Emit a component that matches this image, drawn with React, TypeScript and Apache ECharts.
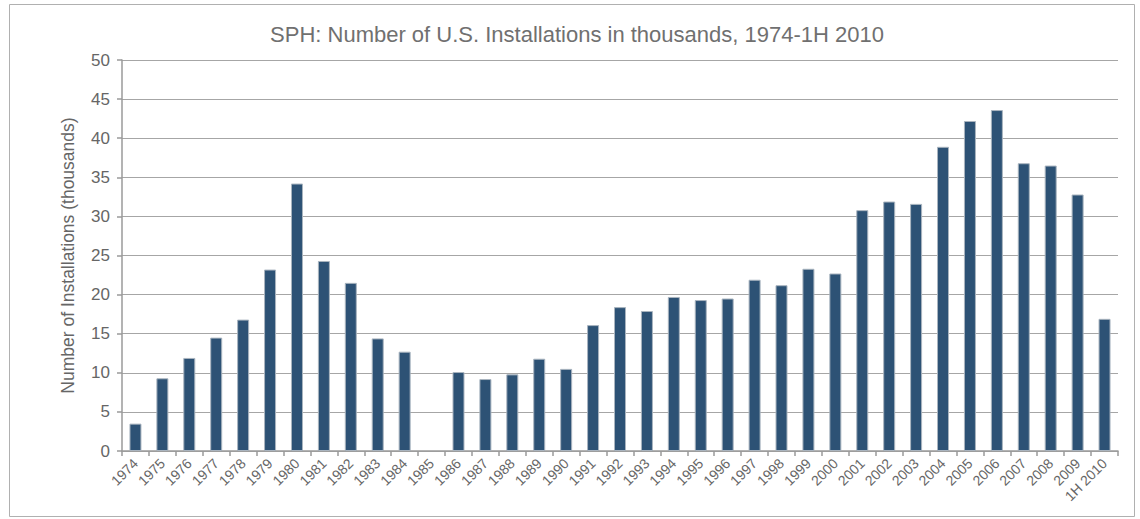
import React, { useEffect, useRef } from "react";
import * as echarts from "echarts";

const categories = [
  "1974","1975","1976","1977","1978","1979","1980","1981","1982","1983","1984","1985",
  "1986","1987","1988","1989","1990","1991","1992","1993","1994","1995","1996","1997",
  "1998","1999","2000","2001","2002","2003","2004","2005","2006","2007","2008","2009","1H 2010",
];
const installations: (number | null)[] = [
  3.5, 9.3, 11.9, 14.5, 16.8, 23.2, 34.2, 24.3, 21.5, 14.4, 12.7, null,
  10.1, 9.2, 9.8, 11.8, 10.5, 16.1, 18.4, 17.9, 19.7, 19.3, 19.5, 21.9,
  21.2, 23.3, 22.7, 30.8, 31.9, 31.6, 38.9, 42.2, 43.6, 36.8, 36.5, 32.8, 16.9,
];
const titleText = "SPH: Number of U.S. Installations in thousands, 1974-1H 2010";
const yAxisName = "Number of Installations (thousands)";

export default function App() {
  const ref = useRef<HTMLDivElement>(null);
  useEffect(() => {
    if (!ref.current) return;
    const chart = echarts.init(ref.current, undefined, { renderer: "svg" });
    const font = "'Liberation Sans', Arial, Helvetica, sans-serif";
    chart.setOption({
      animation: false,
      backgroundColor: "#ffffff",
      textStyle: { fontFamily: font },
      title: {
        text: titleText,
        left: 572,
        top: 18,
        textAlign: "center",
        textStyle: { fontSize: 22, fontWeight: "normal", color: "#707070", fontFamily: font },
      },
      graphic: [
        {
          type: "rect",
          shape: { x: 9.5, y: 4.5, width: 1125, height: 512 },
          style: { fill: "none", stroke: "#b0b0b0", lineWidth: 1 },
          silent: true,
        },
      ],
      grid: { left: 122, right: 22, top: 60, bottom: 68 },
      xAxis: {
        type: "category",
        data: categories,
        axisLine: { show: true, lineStyle: { color: "#9a9a9a", width: 1.5 } },
        axisTick: { show: true, alignWithLabel: false, length: 5, lineStyle: { color: "#9a9a9a", width: 1.5 } },
        axisLabel: {
          interval: 0,
          rotate: 45,
          color: "#666666",
          fontSize: 14,
          fontFamily: font,
          margin: 10,
        },
      },
      yAxis: {
        type: "value",
        min: 0,
        max: 50,
        interval: 5,
        name: yAxisName,
        nameLocation: "middle",
        nameGap: 45,
        nameTextStyle: { color: "#666666", fontSize: 17.5, fontFamily: font },
        axisLine: { show: true, lineStyle: { color: "#9a9a9a", width: 1.5 } },
        axisTick: { show: true, length: 5, lineStyle: { color: "#9a9a9a", width: 1.5 } },
        axisLabel: { color: "#666666", fontSize: 17, fontFamily: font, margin: 12 },
        splitLine: { show: true, lineStyle: { color: "#a6a6a6", width: 1.2 } },
      },
      series: [
        {
          type: "bar",
          data: installations,
          barWidth: 12,
          itemStyle: { color: "#2d5275", borderColor: "#a9b4bf", borderWidth: 1 },
        },
      ],
    });
    return () => chart.dispose();
  }, []);
  return (
    <div
      ref={ref}
      style={{ position: "absolute", left: 0, top: 0, width: 1140, height: 519 }}
    />
  );
}
